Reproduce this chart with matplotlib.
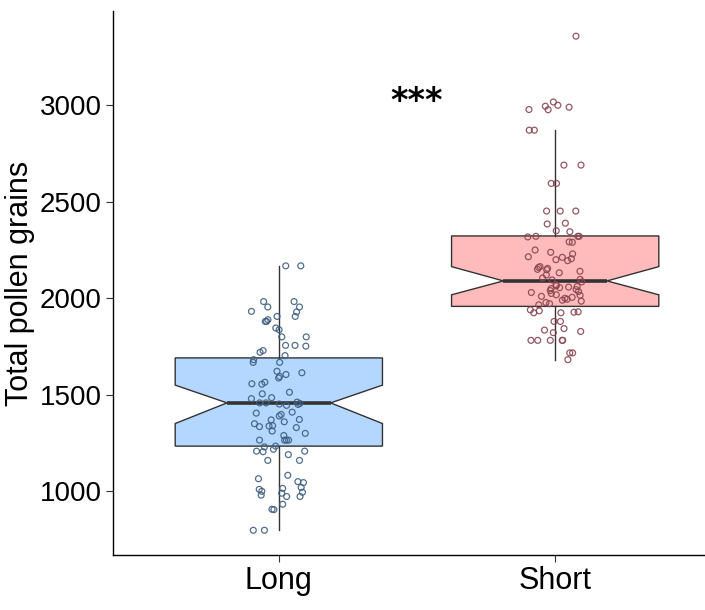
import numpy as np
import matplotlib
matplotlib.use("Agg")
import matplotlib.pyplot as plt

# ── data ──────────────────────────────────────────────────────────────────────
groups = ["Long", "Short"]

long_vals = [2168, 2168, 1983, 1983, 1955, 1955, 1932, 1929, 1906, 1906, 1889,
             1880, 1880, 1846, 1837, 1800, 1800, 1756, 1756, 1752, 1729, 1720,
             1703, 1682, 1668, 1668, 1622, 1614, 1605, 1595, 1587, 1565, 1557,
             1555, 1513, 1505, 1485, 1480, 1462, 1458, 1458, 1455, 1452, 1450,
             1445, 1410, 1405, 1398, 1390, 1372, 1370, 1360, 1350, 1340, 1338,
             1335, 1330, 1312, 1300, 1289, 1265, 1265, 1265, 1265, 1234, 1230,
             1218, 1208, 1208, 1205, 1190, 1160, 1160, 1083, 1065, 1050, 1045,
             1020, 1015, 1010, 1000, 995, 990, 980, 973, 973, 933, 907, 905,
             798, 798]

short_vals = [3358, 3017, 3000, 2995, 2990, 2978, 2977, 2871, 2871, 2690, 2690,
              2595, 2595, 2452, 2452, 2452, 2389, 2385, 2350, 2345, 2321, 2321,
              2321, 2318, 2292, 2290, 2250, 2238, 2230, 2215, 2212, 2205, 2200,
              2195, 2164, 2160, 2155, 2150, 2148, 2140, 2132, 2121, 2105, 2098,
              2095, 2085, 2070, 2065, 2061, 2058, 2055, 2050, 2045, 2040, 2035,
              2030, 2025, 2018, 2015, 2010, 2005, 2000, 1995, 1990, 1985, 1978,
              1972, 1966, 1940, 1935, 1930, 1928, 1925, 1925, 1880, 1880, 1843,
              1835, 1828, 1822, 1782, 1782, 1782, 1782, 1782, 1717, 1717, 1682]

# box statistics (as drawn in the reference)
q1      = [1234, 1958]
med     = [1458, 2090]
q3      = [1691, 2323]
whislo  = [798, 1682]
whishi  = [2168, 2871]
notchlo = [1351, 2018]
notchhi = [1550, 2164]

yticks = [1000, 1500, 2000, 2500, 3000]

box_fill = ["#B3D7FF", "#FFBBBB"]
pt_edge = ["#3F5F80", "#8A4550"]

# ── plot ──────────────────────────────────────────────────────────────────────
fig = plt.figure(figsize=(7.05, 6.10), dpi=100)
ax = fig.add_axes([0.1603, 0.0902, 0.8624, 0.891])

stats = []
for i, g in enumerate(groups):
    stats.append(dict(label=g, q1=q1[i], med=med[i], q3=q3[i],
                      whislo=whislo[i], whishi=whishi[i],
                      cilo=notchlo[i], cihi=notchhi[i], fliers=[]))

bp = ax.bxp(stats, positions=[1, 2], widths=0.75, shownotches=True,
            showcaps=False, patch_artist=True,
            boxprops=dict(edgecolor="#333333", linewidth=1.0),
            whiskerprops=dict(color="#333333", linewidth=1.0),
            medianprops=dict(color="#333333", linewidth=2.6,
                             solid_capstyle="butt"))
for patch, c in zip(bp["boxes"], box_fill):
    patch.set_facecolor(c)

# jittered points (jitter only spreads x, values come from the lists above)
rng = np.random.default_rng(7)
for i, vals in enumerate([long_vals, short_vals]):
    xj = (i + 1) + rng.uniform(-0.1, 0.1, len(vals))
    ax.scatter(xj, vals, s=18, facecolors="none", edgecolors=pt_edge[i],
               linewidths=0.9, zorder=5, alpha=0.9)

ax.text(1.5, 3020, "***", ha="center", va="center", fontsize=24,
        fontweight="bold", color="black")

allv = long_vals + short_vals
lo, hi = min(allv), max(allv)
pad = 0.05 * (hi - lo)
ax.set_ylim(lo - pad, hi + pad)
ax.set_xlim(0.4, 2.6)

ax.set_yticks(yticks)
ax.set_xticks([1, 2])
ax.set_xticklabels(groups)
font = ["Liberation Sans", "DejaVu Sans"]
for lab in ax.get_xticklabels():
    lab.set_family(font)
    lab.set_fontsize(22)
for lab in ax.get_yticklabels():
    lab.set_family(font)
    lab.set_fontsize(20)
ax.tick_params(axis="both", length=5, width=0.8, color="#333333",
               labelcolor="black", pad=3)

ax.set_ylabel("Total pollen grains", fontsize=22, family=font)
ax.yaxis.set_label_coords(-0.128, 0.5)

ax.spines[["top", "right"]].set_visible(False)
ax.spines["left"].set_linewidth(1.0)
ax.spines["bottom"].set_linewidth(1.0)

fig.savefig("out.png", dpi=100)
